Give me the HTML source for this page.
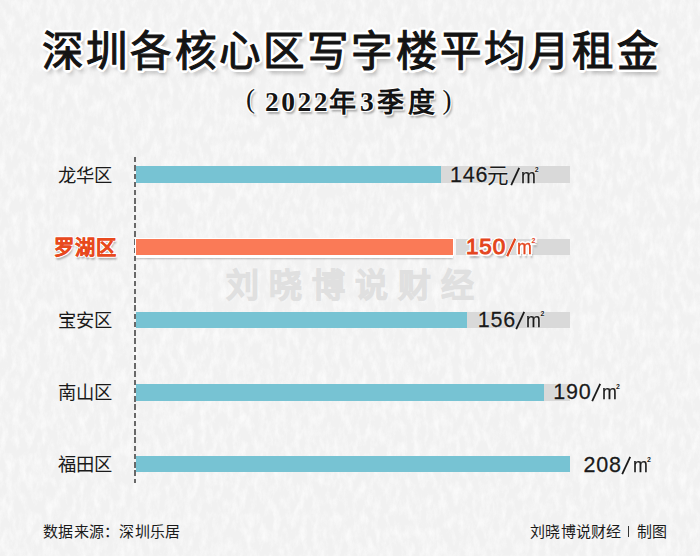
<!DOCTYPE html>
<html lang="zh-CN"><head><meta charset="utf-8">
<style>
html,body{margin:0;padding:0;}
body{width:700px;height:556px;overflow:hidden;position:relative;background:#f2f2f2;font-family:"Liberation Sans",sans-serif;}
.abs{position:absolute;white-space:nowrap;}
.tex{left:0;top:0;width:700px;height:556px;}
.title{left:42px;top:26px;font-family:"Liberation Serif",serif;font-weight:400;-webkit-text-stroke:1.1px #141414;font-size:41.5px;line-height:52px;letter-spacing:2.2px;color:#141414;
 text-shadow:1.5px 0.0px 0 #fff,1.1px 1.1px 0 #fff,0.0px 1.5px 0 #fff,-1.1px 1.1px 0 #fff,-1.5px 0.0px 0 #fff,-1.1px -1.1px 0 #fff,-0.0px -1.5px 0 #fff,1.1px -1.1px 0 #fff,3.0px 0.0px 0 #fff,2.8px 1.1px 0 #fff,2.1px 2.1px 0 #fff,1.1px 2.8px 0 #fff,0.0px 3.0px 0 #fff,-1.1px 2.8px 0 #fff,-2.1px 2.1px 0 #fff,-2.8px 1.1px 0 #fff,-3.0px 0.0px 0 #fff,-2.8px -1.1px 0 #fff,-2.1px -2.1px 0 #fff,-1.1px -2.8px 0 #fff,-0.0px -3.0px 0 #fff,1.1px -2.8px 0 #fff,2.1px -2.1px 0 #fff,2.8px -1.1px 0 #fff,3px 5px 4px rgba(0,0,0,.32);}
.sub{font-family:"Liberation Serif",serif;font-weight:bold;color:#141414;line-height:34px;
 text-shadow:-1px -1px 0 #fff,1px -1px 0 #fff,-1px 1px 0 #fff,1px 1px 0 #fff,2px 3px 2px rgba(0,0,0,.3);}
.par{font-weight:normal;font-size:27px;}
.dash{left:134.3px;top:157.3px;width:1.6px;height:326px;background:repeating-linear-gradient(to bottom,#686868 0 5.4px,transparent 5.4px 8.25px);}
.track{left:136px;width:434px;height:16.5px;background:#d9d9d9;}
.bar{left:136px;height:16.5px;background:#77c3d3;}
.lab{font-size:18.3px;line-height:20px;color:#1a1a1a;}
.v{line-height:24px;color:#1a1a1a;text-shadow:0 0 2px #fff,0 0 1px #fff;}
.vd{font-size:21.5px;letter-spacing:0.8px;-webkit-text-stroke:0.3px #1a1a1a;}
.vy{font-size:21.5px;}
.vs{font-size:28px;}
.vm{font-size:20.5px;-webkit-text-stroke:0.25px currentColor;transform:scaleX(.87);transform-origin:0 0;}
.v2{font-size:7px;font-weight:bold;}
.hl{color:#e4441c;font-weight:normal;text-shadow:-1.5px -1.5px 0 #fff,1.5px -1.5px 0 #fff,-1.5px 1.5px 0 #fff,1.5px 1.5px 0 #fff,0 -2px 0 #fff,0 2px 0 #fff,-2px 0 0 #fff,2px 0 0 #fff,2px 3.5px 2px rgba(0,0,0,.28);}
.vd.hl{-webkit-text-stroke:1px #e4441c;}
.vm.hl{-webkit-text-stroke:0.3px #e4441c;}
.v2.hl{font-weight:bold;}
.wm{left:226px;top:265px;font-size:33px;line-height:42px;font-weight:900;letter-spacing:10px;color:#e0e0e0;-webkit-text-stroke:0.8px #e0e0e0;}
.foot{font-size:15px;line-height:18px;color:#1a1a1a;}
</style></head><body>
<svg class="abs tex" width="700" height="556"><filter id="n" x="0" y="0" width="100%" height="100%"><feTurbulence type="fractalNoise" baseFrequency="0.15 0.07" numOctaves="4" seed="11"/><feColorMatrix type="matrix" values="0 0 0 0 1 0 0 0 0 1 0 0 0 0 1 0 0 2.2 0 -0.85"/></filter><rect width="700" height="556" fill="#f1f1f1"/><rect width="700" height="556" filter="url(#n)" opacity=".65"/></svg>
<div class="abs wm">刘晓博说财经</div>
<div class="abs title">深圳各核心区写字楼平均月租金</div>

<div class="abs sub par" style="left:246px;top:82px;">(</div>
<div class="abs sub " style="left:265px;top:85px;font-size:27.5px;letter-spacing:2.5px;">2022</div>
<div class="abs sub " style="left:329px;top:86px;font-size:27px;">年</div>
<div class="abs sub " style="left:360px;top:85px;font-size:27.5px;">3</div>
<div class="abs sub " style="left:376.5px;top:86px;font-size:27px;">季</div>
<div class="abs sub " style="left:408px;top:86px;font-size:27px;">度</div>
<div class="abs sub par" style="left:442.5px;top:83px;">)</div>
<div class="abs dash"></div>
<div class="abs lab" style="left:58px;top:166.3px;">龙华区</div>
<div class="abs track" style="top:166.3px;"></div>
<div class="abs bar" style="top:166.3px;width:305px;"></div>
<div class="abs v vd" style="left:450px;top:163.2px;">146</div>
<div class="abs v vy" style="left:486.9px;top:163.6px;">元</div>
<svg class="abs" style="left:509.7px;top:166.5px;" width="11" height="19"><line x1="1.2" y1="18.2" x2="9.2" y2="0.8" stroke="#1a1a1a" stroke-width="1.8"/></svg>
<div class="abs v vm" style="left:521.0px;top:163.6px;">m</div>
<div class="abs v v2" style="left:534.7px;top:158.1px;">2</div>
<div class="abs lab" style="left:54px;top:238.3px;font-size:20.3px;letter-spacing:1.2px;font-weight:900;color:#e8491d;-webkit-text-stroke:0.3px #e8491d;text-shadow:-1px -1px 0 #fff,1px -1px 0 #fff,-1px 1px 0 #fff,1px 1px 0 #fff,1px 3px 2px rgba(0,0,0,.3);">罗湖区</div>
<div class="abs track" style="top:238.7px;left:456px;width:114px;"></div>
<div class="abs bar" style="top:238.7px;width:317px;background:#fa7a57;box-shadow:0 3px 0 0 #fff,0 0 0 1px #fff,0 4.5px 1.5px rgba(0,0,0,.18);"></div>
<div class="abs v vd hl" style="left:466px;top:234.7px;font-size:22.5px;">150</div>
<svg class="abs" style="left:506.0px;top:237.8px;" width="11" height="19"><line x1="1.2" y1="18.2" x2="9.2" y2="0.8" stroke="#fff" stroke-width="3.6" stroke-linecap="round"/><line x1="1.2" y1="18.2" x2="9.2" y2="0.8" stroke="#e4441c" stroke-width="2.3"/></svg>
<div class="abs v vm hl" style="left:517.4px;top:234.9px;">m</div>
<div class="abs v v2 hl" style="left:531.5px;top:229.4px;">2</div>
<div class="abs lab" style="left:58px;top:311px;">宝安区</div>
<div class="abs track" style="top:311.8px;"></div>
<div class="abs bar" style="top:311.8px;width:331px;"></div>
<div class="abs v vd" style="left:477.7px;top:307.5px;">156</div>
<svg class="abs" style="left:514.7px;top:310.8px;" width="11" height="19"><line x1="1.2" y1="18.2" x2="9.2" y2="0.8" stroke="#1a1a1a" stroke-width="1.8"/></svg>
<div class="abs v vm" style="left:526.1px;top:307.9px;">m</div>
<div class="abs v v2" style="left:540.5px;top:302.4px;">2</div>
<div class="abs lab" style="left:58px;top:382.5px;">南山区</div>
<div class="abs track" style="top:384px;"></div>
<div class="abs bar" style="top:384px;width:408px;"></div>
<div class="abs v vd" style="left:553.3px;top:380.0px;">190</div>
<svg class="abs" style="left:591.0px;top:383.3px;" width="11" height="19"><line x1="1.2" y1="18.2" x2="9.2" y2="0.8" stroke="#1a1a1a" stroke-width="1.8"/></svg>
<div class="abs v vm" style="left:602.4px;top:380.4px;">m</div>
<div class="abs v v2" style="left:616px;top:374.9px;">2</div>
<div class="abs lab" style="left:58px;top:455px;">福田区</div>
<div class="abs bar" style="top:455.5px;width:434px;"></div>
<div class="abs v vd" style="left:583.4px;top:452.6px;">208</div>
<svg class="abs" style="left:621.1px;top:455.9px;" width="11" height="19"><line x1="1.2" y1="18.2" x2="9.2" y2="0.8" stroke="#1a1a1a" stroke-width="1.8"/></svg>
<div class="abs v vm" style="left:633.1px;top:453.0px;">m</div>
<div class="abs v v2" style="left:647px;top:447.5px;">2</div>
<div class="abs foot" style="left:43px;top:523px;letter-spacing:0.3px;">数据来源：深圳乐居</div>
<div class="abs foot" style="left:530px;top:523.3px;letter-spacing:0.3px;">刘晓博说财经</div>
<div class="abs" style="left:627.8px;top:525.8px;width:1.6px;height:11.6px;background:#333;"></div>
<div class="abs foot" style="left:637px;top:523.3px;letter-spacing:0.3px;">制图</div>
</body></html>
